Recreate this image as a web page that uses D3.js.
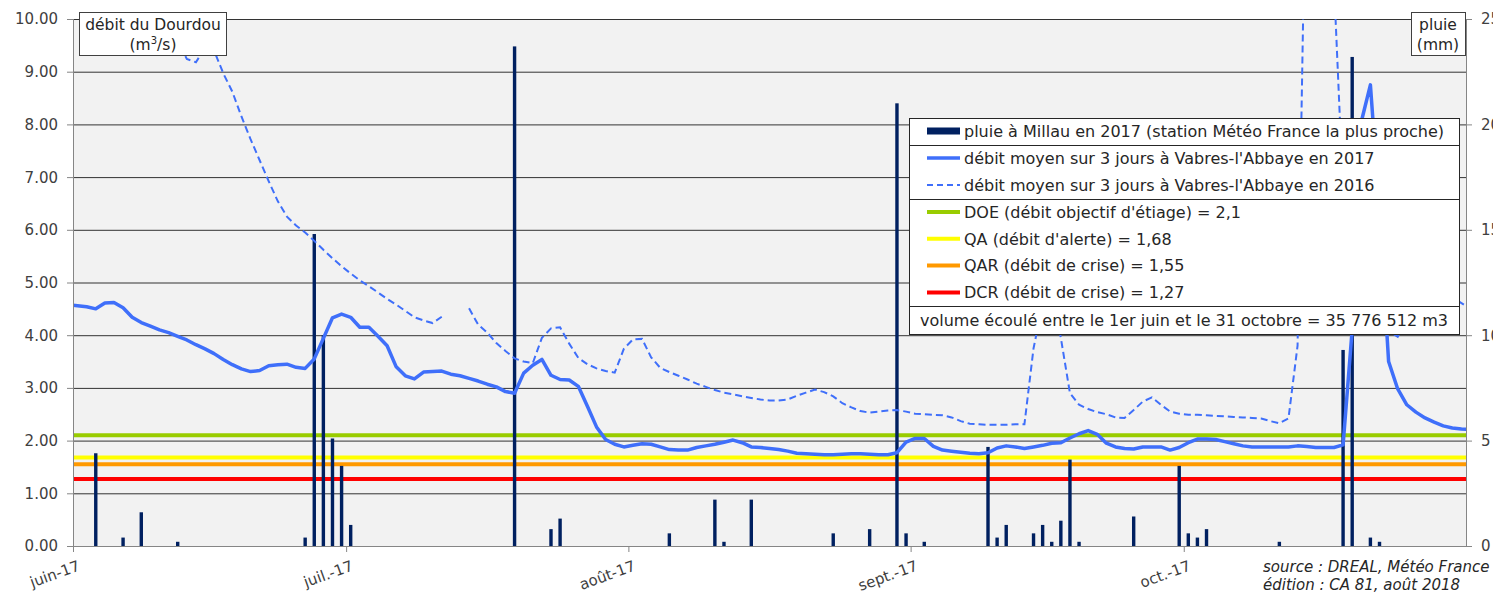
<!DOCTYPE html>
<html><head><meta charset="utf-8">
<script src="https://cdn.jsdelivr.net/npm/d3@7"></script>
<style>
body{margin:0;background:#fff;}
svg{display:block;font-family:"DejaVu Sans",Verdana,sans-serif;}
</style></head><body>
<svg id="chart" width="1493" height="592"></svg>
<script>
// ---------- DATA ----------
// daily flow series (m3/s), first value = 31 May, last = 1 Nov
const flowStart = "2017-05-31";
const flow2017 = [4.58,4.56,4.54,4.50,4.61,4.62,4.52,4.34,4.24,4.17,4.10,4.05,3.98,3.91,3.82,3.74,3.65,3.54,3.44,3.36,3.31,3.33,3.42,3.44,3.45,3.39,3.37,3.55,3.94,4.33,4.40,4.34,4.15,4.15,3.98,3.80,3.40,3.23,3.17,3.30,3.31,3.32,3.26,3.23,3.18,3.13,3.07,3.02,2.93,2.90,3.28,3.43,3.54,3.24,3.16,3.15,3.03,2.65,2.26,2.02,1.93,1.88,1.91,1.94,1.93,1.88,1.83,1.82,1.82,1.87,1.90,1.93,1.97,2.01,1.96,1.88,1.87,1.85,1.83,1.80,1.76,1.75,1.74,1.73,1.73,1.74,1.75,1.75,1.74,1.73,1.73,1.77,1.97,2.04,2.04,1.89,1.82,1.80,1.78,1.76,1.75,1.77,1.86,1.90,1.88,1.85,1.88,1.91,1.95,1.96,2.05,2.13,2.19,2.12,1.95,1.88,1.85,1.84,1.88,1.88,1.88,1.82,1.87,1.96,2.03,2.03,2.02,1.98,1.94,1.90,1.88,1.88,1.88,1.88,1.88,1.90,1.89,1.87,1.87,1.87,1.92,4.11,8.05,8.75,6.36,3.50,2.98,2.68,2.54,2.43,2.35,2.28,2.24,2.22,2.21];
const flow2016 = [19.0,17.5,16.0,15.0,14.0,13.2,12.5,11.8,11.2,10.7,10.3,10.0,9.6,9.24,9.18,9.45,9.40,8.97,8.62,8.15,7.72,7.32,6.92,6.54,6.25,6.08,5.95,5.79,5.62,5.46,5.31,5.17,5.04,4.93,4.81,4.69,4.58,4.46,4.34,4.28,4.23,4.35,null,null,4.51,4.20,4.05,3.85,3.70,3.56,3.50,3.47,3.95,4.13,4.15,3.84,3.57,3.45,3.37,3.32,3.29,3.74,3.92,3.93,3.58,3.38,3.30,3.23,3.16,3.08,3.02,2.96,2.91,2.88,2.84,2.81,2.78,2.76,2.76,2.78,2.85,2.91,2.97,2.92,2.84,2.71,2.63,2.56,2.53,2.55,2.57,2.58,2.55,2.51,2.50,2.49,2.48,2.44,2.37,2.32,2.31,2.30,2.30,2.30,2.31,2.31,3.75,4.60,4.80,3.95,2.90,2.68,2.60,2.54,2.50,2.44,2.43,2.58,2.74,2.82,2.68,2.55,2.51,2.49,2.49,2.48,2.47,2.46,2.45,2.44,2.43,2.42,2.37,2.33,2.42,3.80,14.0,15.0,13.0,10.7,6.7,5.6,4.9,4.5,4.25,4.08,3.97,4.3,4.7,4.9,4.95,4.85,4.72,4.61,4.50];

// daily rain at Millau (mm), only days with rain
const rainDates = ["2017-06-03","2017-06-06","2017-06-08","2017-06-12","2017-06-26","2017-06-27","2017-06-28","2017-06-29","2017-06-30","2017-07-01","2017-07-19","2017-07-23","2017-07-24","2017-08-05","2017-08-10","2017-08-11","2017-08-14","2017-08-23","2017-08-27","2017-08-30","2017-08-31","2017-09-02","2017-09-09","2017-09-10","2017-09-11","2017-09-14","2017-09-15","2017-09-16","2017-09-17","2017-09-18","2017-09-19","2017-09-25","2017-09-30","2017-10-01","2017-10-02","2017-10-03","2017-10-11","2017-10-18","2017-10-19","2017-10-21","2017-10-22"];
const rainValues = [4.4,0.4,1.6,0.2,0.4,14.8,10.0,5.1,3.8,1.0,23.7,0.8,1.3,0.6,2.2,0.2,2.2,0.6,0.8,21.0,0.6,0.2,4.7,0.4,1.0,0.6,1.0,0.2,1.2,4.1,0.2,1.4,3.8,0.6,0.4,0.8,0.2,9.3,23.2,0.4,0.2];

const thresholdValues = [2.1, 1.68, 1.55, 1.27];
const thresholdLabels = ["DOE (débit objectif d'étiage) = 2,1","QA (débit d'alerte) = 1,68","QAR (débit de crise) = 1,55","DCR (débit de crise) = 1,27"];
const thresholdColors = ["#99cc00","#ffff00","#ff9900","#ff0000"];

const leftTicks = [0,1,2,3,4,5,6,7,8,9,10];
const rightTicks = [0,5,10,15,20,25];
const monthTicks = ["2017-06-01","2017-07-01","2017-08-01","2017-09-01","2017-10-01"];
const monthLabels = ["juin-17","juil.-17","août-17","sept.-17","oct.-17"];

// ---------- CHART ----------
const svg = d3.select("#chart");
const L = 73, R = 1466, T = 19, B = 546;
const parse = d3.utcParse("%Y-%m-%d");
const x = d3.scaleUtc().domain([parse("2017-06-01"), parse("2017-11-01")]).range([L, R]);
const yL = d3.scaleLinear().domain([0,10]).range([B,T]);
const yR = d3.scaleLinear().domain([0,25]).range([B,T]);
const dayCenter = d => x(d3.utcHour.offset(d, 12));
const textCol = "#262626";

svg.append("defs").append("clipPath").attr("id","plotclip")
  .append("rect").attr("x",L).attr("y",T).attr("width",R-L).attr("height",B-T);

// plot background
svg.append("rect").attr("x",L).attr("y",T).attr("width",R-L).attr("height",B-T).attr("fill","#f2f2f2");

// gridlines
svg.append("g").selectAll("line").data(leftTicks.filter(v=>v>0)).join("line")
  .attr("x1",L).attr("x2",R).attr("y1",d=>yL(d)+0.5).attr("y2",d=>yL(d)+0.5)
  .attr("stroke","#333").attr("stroke-width",1);

// thresholds
svg.append("g").selectAll("line").data(thresholdValues).join("line")
  .attr("x1",L).attr("x2",R).attr("y1",d=>yL(d)).attr("y2",d=>yL(d))
  .attr("stroke",(d,i)=>thresholdColors[i]).attr("stroke-width",4);

// rain bars
const bw = 3.4;
svg.append("g").selectAll("rect").data(rainDates).join("rect")
  .attr("x",d=>dayCenter(parse(d))-bw/2).attr("width",bw)
  .attr("y",(d,i)=>yR(rainValues[i])).attr("height",(d,i)=>B-yR(rainValues[i]))
  .attr("fill","#002060");

// flow lines
const t0 = parse(flowStart);
const line = d3.line().defined(v=>v!=null)
  .x((v,i)=>dayCenter(d3.utcDay.offset(t0,i))).y(v=>yL(v));
const g = svg.append("g").attr("clip-path","url(#plotclip)");
g.append("path").attr("d",line(flow2016)).attr("fill","none")
  .attr("stroke","#3f6ffa").attr("stroke-width",2).attr("stroke-dasharray","7,4");
g.append("path").attr("d",line(flow2017)).attr("fill","none")
  .attr("stroke","#3f6ffa").attr("stroke-width",3.5).attr("stroke-linejoin","round");

// axes
const axCol = "#868686";
svg.append("line").attr("x1",L+0.5).attr("x2",L+0.5).attr("y1",T).attr("y2",B).attr("stroke",axCol);
svg.append("line").attr("x1",R+0.5).attr("x2",R+0.5).attr("y1",T).attr("y2",B).attr("stroke",axCol);
svg.append("line").attr("x1",L).attr("x2",R).attr("y1",B+0.5).attr("y2",B+0.5).attr("stroke",axCol);

const gl = svg.append("g");
gl.selectAll("line").data(leftTicks).join("line")
  .attr("x1",L-6).attr("x2",L).attr("y1",d=>yL(d)+0.5).attr("y2",d=>yL(d)+0.5).attr("stroke",axCol);
gl.selectAll("text").data(leftTicks).join("text")
  .attr("x",L-15).attr("y",d=>yL(d)).attr("dy","0.36em").attr("text-anchor","end")
  .attr("font-size",15).attr("fill","#404040").text(d=>d3.format(".2f")(d));

const gr = svg.append("g");
gr.selectAll("line").data(rightTicks).join("line")
  .attr("x1",R).attr("x2",R+6).attr("y1",d=>yR(d)+0.5).attr("y2",d=>yR(d)+0.5).attr("stroke",axCol);
gr.selectAll("text").data(rightTicks).join("text")
  .attr("x",R+15).attr("y",d=>yR(d)).attr("dy","0.36em").attr("text-anchor","start")
  .attr("font-size",15).attr("fill","#404040").text(d=>d);

const gb = svg.append("g");
gb.selectAll("line").data(monthTicks).join("line")
  .attr("x1",d=>x(parse(d))+0.5).attr("x2",d=>x(parse(d))+0.5).attr("y1",B).attr("y2",B+6).attr("stroke",axCol);
gb.selectAll("text").data(monthTicks).join("text")
  .attr("transform",d=>`translate(${x(parse(d))+8},570) rotate(-20)`)
  .attr("text-anchor","end").attr("font-size",15).attr("fill","#404040")
  .text((d,i)=>monthLabels[i]);

// axis title boxes
function titleBox(x0,y0,w,h,lines,cx){
  svg.append("rect").attr("x",x0+0.5).attr("y",y0+0.5).attr("width",w).attr("height",h)
    .attr("fill","#fff").attr("stroke","#404040");
  lines.forEach((t,i)=>{
    const tx = svg.append("text").attr("x",cx).attr("y",y0+18+i*20).attr("text-anchor","middle")
      .attr("font-size",15.5).attr("fill",textCol);
    if (typeof t === "object") {
      tx.append("tspan").text(t.a);
      tx.append("tspan").attr("font-size",10).attr("dy",-6).text(t.sup);
      tx.append("tspan").attr("dy",6).text(t.b);
    } else tx.text(t);
  });
}
titleBox(79,12,147,43,["débit du Dourdou",{a:"(m",sup:"3",b:"/s)"}],153);
titleBox(1411,12,54,43,["pluie","(mm)"],1438);

// legend
const lg = svg.append("g");
const lx = 909, ly = 118, lw = 550, lh = 216;
lg.append("rect").attr("x",lx+0.5).attr("y",ly+0.5).attr("width",lw).attr("height",lh)
  .attr("fill","#fff").attr("stroke","#262626");
[145.5,199.5,306.5].forEach(yy=>lg.append("line").attr("x1",lx).attr("x2",lx+lw).attr("y1",yy).attr("y2",yy).attr("stroke","#262626"));
const sx0 = 927, sx1 = 960, tx = 964;
const rows = [
  {y:131, type:"bar", label:"pluie à Millau en 2017 (station Météo France la plus proche)"},
  {y:158, type:"line", color:"#3f6ffa", w:3.5, label:"débit moyen sur 3 jours à Vabres-l'Abbaye en 2017"},
  {y:185, type:"line", color:"#3f6ffa", w:2, dash:"6,4", label:"débit moyen sur 3 jours à Vabres-l'Abbaye en 2016"}
];
thresholdLabels.forEach((t,i)=>rows.push({y:212+i*26.8, type:"line", color:thresholdColors[i], w:4, label:t}));
rows.forEach(r=>{
  if (r.type==="bar") lg.append("rect").attr("x",sx0).attr("y",r.y-3.5).attr("width",sx1-sx0).attr("height",7).attr("fill","#002060");
  else lg.append("line").attr("x1",sx0).attr("x2",sx1).attr("y1",r.y).attr("y2",r.y)
    .attr("stroke",r.color).attr("stroke-width",r.w).attr("stroke-dasharray",r.dash||null);
  lg.append("text").attr("x",tx).attr("y",r.y).attr("dy","0.36em").attr("font-size",16).attr("fill",textCol).text(r.label);
});
lg.append("text").attr("x",lx+lw/2).attr("y",320).attr("dy","0.36em").attr("text-anchor","middle")
  .attr("font-size",16).attr("fill",textCol).text("volume écoulé entre le 1er juin et le 31 octobre = 35 776 512 m3");

// source
svg.append("text").attr("x",1263).attr("y",572).attr("font-size",15).attr("font-style","italic").attr("fill",textCol).text("source : DREAL, Météo France");
svg.append("text").attr("x",1263).attr("y",590).attr("font-size",15).attr("font-style","italic").attr("fill",textCol).text("édition : CA 81, août 2018");
</script>
</body></html>
